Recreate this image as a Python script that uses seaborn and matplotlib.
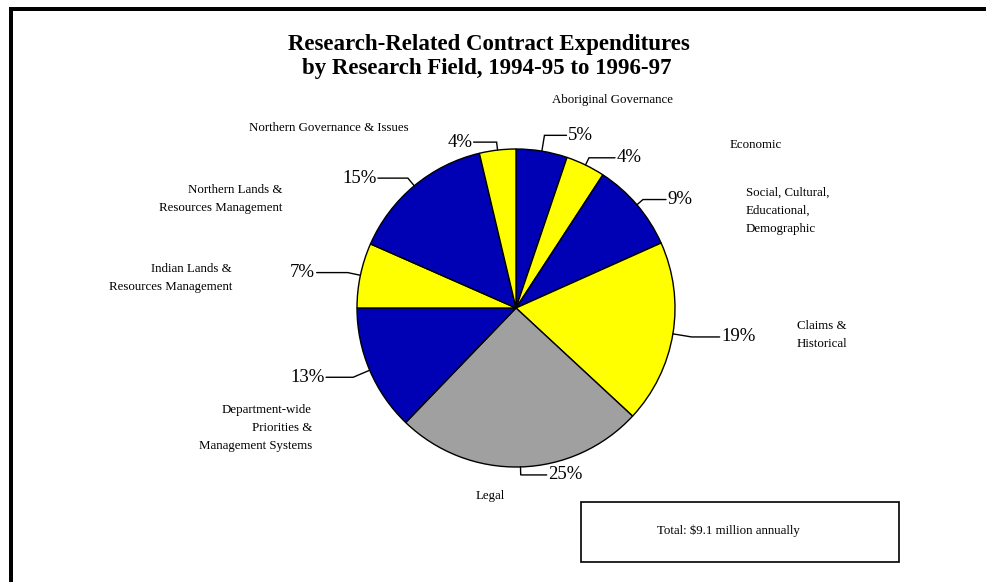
import matplotlib
matplotlib.use("Agg")
import matplotlib.pyplot as plt
from matplotlib.patches import Rectangle
import numpy as np
import seaborn as sns

# ---------------- data ----------------
categories = [
    "Aboriginal Governance",
    "Economic",
    "Social, Cultural,\nEducational,\nDemographic",
    "Claims &\nHistorical",
    "Legal",
    "Department-wide\nPriorities &\nManagement Systems",
    "Indian Lands &\nResources Management",
    "Northern Lands &\nResources Management",
    "Northern Governance & Issues",
]
shares = [5.2, 4.0, 9.1, 18.6, 25.3, 12.8, 6.6, 14.7, 3.7]
pct_labels = [f"{v:.0f}%" for v in shares]
title_lines = ["Research-Related Contract Expenditures",
               "by Research Field, 1994-95 to 1996-97"]
total_note = "Total: $9.1 million annually"

# ---------------- style ----------------
sns.set_theme(style="white")
plt.rcParams["font.family"] = ["Liberation Serif", "DejaVu Serif"]

BLUE, YELLOW, GREY = "#0000b4", "#ffff00", "#a0a0a0"
slice_colors = [BLUE, YELLOW, BLUE, YELLOW, GREY, BLUE, YELLOW, BLUE, YELLOW]

W, H = 987, 582
fig = plt.figure(figsize=(W / 100, H / 100), dpi=100)
ax = fig.add_axes([0, 0, 1, 1])


def Y(y):
    return H - y


# layout (pixel coordinates, origin top-left)
CX, CY, R = 516, 308, 159
cat_layout = [
    (613, 100, "center"),
    (756, 145, "center"),
    (746, 211, "left"),
    (797, 335, "left"),
    (490, 496, "center"),
    (312, 428, "right"),
    (232, 278, "right"),
    (282, 199, "right"),
    (329, 128, "center"),
]
leader_ext = [16, 8, 8, 19, 8, 18, 13, 10, 8]
leader_len = [22, 26, 23, 28, 26, 27, 31, 30, 23]

wedges, _ = ax.pie(
    shares, colors=slice_colors, startangle=90, counterclock=False,
    center=(CX, Y(CY)), radius=R, frame=True,
    wedgeprops=dict(edgecolor="black", linewidth=1.0),
)
ax.set_xlim(0, W)
ax.set_ylim(0, H)
ax.axis("off")

for w, lab, ext, ln in zip(wedges, pct_labels, leader_ext, leader_len):
    mid = np.deg2rad((w.theta1 + w.theta2) / 2)
    x0 = CX + R * np.cos(mid)
    y0 = Y(CY) + R * np.sin(mid)
    x1 = CX + (R + ext) * np.cos(mid)
    y1 = Y(CY) + (R + ext) * np.sin(mid)
    side = 1 if x0 >= CX else -1
    x2 = x1 + side * ln
    ax.plot([x0, x1, x2], [y0, y1, y1], color="black", lw=1.0,
            solid_joinstyle="miter")
    ax.text(x2 + side * 1.5, y1, lab, ha="left" if side > 0 else "right",
            va="center", fontsize=13.5, color="black")

for name, (x, y, ha) in zip(categories, cat_layout):
    ax.text(x, Y(y), name, ha=ha, va="center", multialignment=ha,
            fontsize=9.3, color="black", linespacing=1.65)

# title
ax.text(489, Y(50), title_lines[0], ha="center", va="baseline",
        fontsize=16.5, fontweight="bold", color="black")
ax.text(487, Y(74), title_lines[1], ha="center", va="baseline",
        fontsize=16.5, fontweight="bold", color="black")

# total box
ax.add_patch(Rectangle((581, Y(562)), 318, 60, facecolor="white",
                       edgecolor="black", lw=1.2))
ax.text(728, Y(531), total_note, ha="center", va="center", fontsize=9.3,
        color="black")

# outer frame (left and top)
ax.add_patch(Rectangle((9, 0), 4, Y(7), facecolor="black", edgecolor="none",
                       clip_on=False))
ax.add_patch(Rectangle((9, Y(11)), W - 9, 4, facecolor="black",
                       edgecolor="none", clip_on=False))

fig.savefig("out.png", dpi=100)
